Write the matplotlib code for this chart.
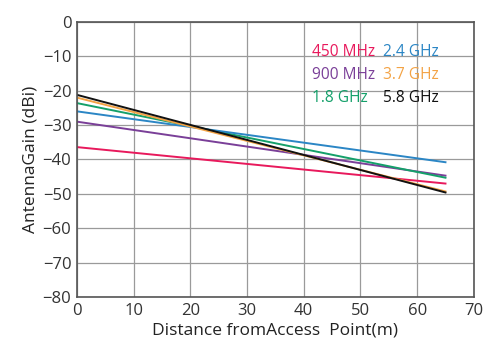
import numpy as np
import matplotlib.pyplot as plt

# data
labels = ['450 MHz', '900 MHz', '1.8 GHz', '2.4 GHz', '3.7 GHz', '5.8 GHz']
colors = ['#e8195c', '#7a3f98', '#14a06a', '#2b86c5', '#f3a345', '#111111']
distance = [0, 65]
gain_start = [-36.4, -29.0, -23.6, -26.0, -22.0, -21.2]
gain_end = [-47.0, -44.7, -45.3, -40.8, -49.3, -49.6]

plt.rcParams['font.family'] = ['Open Sans', 'DejaVu Sans']

fig = plt.figure(figsize=(4.9, 3.6), dpi=100)
ax = fig.add_axes([0.157, 0.175, 0.81, 0.764])

for lab, c, g0, g1 in zip(labels, colors, gain_start, gain_end):
    ax.plot(distance, [g0, g1], color=c, lw=1.4, label=lab)

ax.set_xlim(0, 70)
ax.set_ylim(-80, 0)
ax.set_xticks(np.arange(0, 71, 10))
ax.set_yticks(np.arange(-80, 1, 10))
ax.grid(True, color='#9a9a9a', lw=0.9)
ax.set_axisbelow(True)
for s in ax.spines.values():
    s.set_color('#555555')
    s.set_linewidth(1.2)
ax.tick_params(length=0, labelsize=12, colors='#333333', pad=4)
ax.set_xlabel('Distance fromAccess  Point(m)', fontsize=12.5, color='#222222', labelpad=3)
ax.set_ylabel('AntennaGain (dBi)', fontsize=12.5, color='#222222', labelpad=3)

# coloured text legend in two columns
legend_x = [41.4, 41.4, 41.4, 54.0, 54.0, 54.0]
legend_y = [-8.7, -15.4, -22.1, -8.7, -15.4, -22.1]
for lab, c, lx, ly in zip(labels, colors, legend_x, legend_y):
    ax.text(lx, ly, lab, color=c, fontsize=11.2, va='center', ha='left')

fig.savefig('out.png', dpi=100)
